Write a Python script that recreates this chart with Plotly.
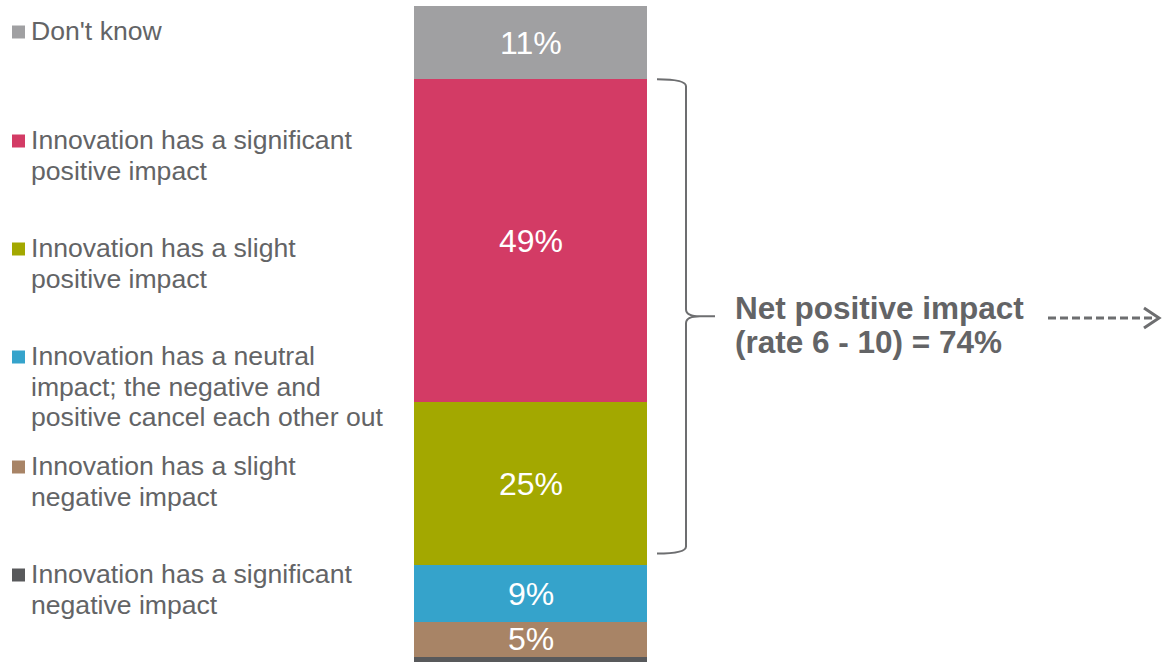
import plotly.graph_objects as go

# ---------------- data (bottom to top) ----------------
categories = [
    "Innovation has a significant negative impact",
    "Innovation has a slight negative impact",
    "Innovation has a neutral impact; the negative and positive cancel each other out",
    "Innovation has a slight positive impact",
    "Innovation has a significant positive impact",
    "Don't know",
]
values = [1.0, 5.4, 8.5, 24.8, 49.0, 11.1]
value_labels = [1, 5, 9, 25, 49, 11]
colors = ["#58595B", "#A88466", "#35A3CB", "#A3A800", "#D33B65", "#A0A0A2"]
legend_lines = [
    ["Innovation has a significant", "negative impact"],
    ["Innovation has a slight", "negative impact"],
    ["Innovation has a neutral", "impact; the negative and", "positive cancel each other out"],
    ["Innovation has a slight", "positive impact"],
    ["Innovation has a significant", "positive impact"],
    ["Don't know"],
]
net_title = "Net positive impact"
net_range = "(rate 6 - 10)"

# ---------------- layout helpers ----------------
W, H = 1162, 662
PX = 6.59          # pixels per percentage point
BAR_TOP_PX = 6
total = sum(values)
y_top = total + BAR_TOP_PX / PX
y_bot = total - (H - BAR_TOP_PX) / PX


def py(pix):
    return y_top - pix / PX


TEXT = "#636466"
LINE = "#6D6E70"
FONT = "Arial, Liberation Sans, sans-serif"
BAR_X, BAR_W = 530.5, 233

fig = go.Figure()
for cat, v, c in zip(categories, values, colors):
    fig.add_trace(go.Bar(x=[BAR_X], y=[v], width=BAR_W, name=cat,
                         marker=dict(color=c, line=dict(width=0)),
                         showlegend=False, hoverinfo="name+y"))

annotations = []
shapes = []

# value labels inside bar
base = 0
for v, lab in zip(values, value_labels):
    if v >= 3:
        annotations.append(dict(x=BAR_X, y=base + v / 2, xref="x", yref="y",
                                text=f"{lab}%", showarrow=False,
                                font=dict(family=FONT, size=32, color="white"),
                                xanchor="center", yanchor="middle"))
    base += v

# custom legend (top to bottom)
legend_first_px = [574, 466, 356, 248, 140, 31]
LINE_GAP = 30.5
for lines, c, y0 in zip(legend_lines, colors, legend_first_px):
    shapes.append(dict(type="rect", xref="x", yref="y", x0=12, x1=25,
                       y0=py(y0 + 7.5), y1=py(y0 - 5.5),
                       fillcolor=c, line=dict(width=0)))
    for i, ln in enumerate(lines):
        annotations.append(dict(x=28.5, y=py(y0 + i * LINE_GAP), xref="x", yref="y",
                                text=ln, showarrow=False,
                                font=dict(family=FONT, size=26.6, color=TEXT),
                                xanchor="left", yanchor="middle"))

# curly bracket spanning significant + slight positive
top = sum(values[:5])
bot = sum(values[:3]) + 12 / PX
mid = (top + bot) / 2
d = 7 / PX
xa, xb, xc, xt = 657, 686, 700, 715
path = (f"M {xa},{top} Q {xb},{top} {xb},{top - d} L {xb},{mid + d} "
        f"Q {xb},{mid} {xc},{mid} L {xt},{mid} M {xc},{mid} "
        f"Q {xb},{mid} {xb},{mid - d} L {xb},{bot + d} Q {xb},{bot} {xa},{bot}")
shapes.append(dict(type="path", xref="x", yref="y", path=path,
                   line=dict(color=LINE, width=2)))

net_pct = value_labels[3] + value_labels[4]
annotations.append(dict(x=733, y=py(308), xref="x", yref="y", text=f"<b>{net_title}</b>",
                        showarrow=False, font=dict(family=FONT, size=31.5, color=TEXT),
                        xanchor="left", yanchor="middle"))
annotations.append(dict(x=733, y=py(342), xref="x", yref="y",
                        text=f"<b>{net_range} = {net_pct}%</b>",
                        showarrow=False, font=dict(family=FONT, size=31.5, color=TEXT),
                        xanchor="left", yanchor="middle"))

# dashed arrow
ay = py(318)
shapes.append(dict(type="line", xref="x", yref="y", x0=1048, x1=1156, y0=ay, y1=ay,
                   line=dict(color=LINE, width=3, dash="8px,4px")))
shapes.append(dict(type="path", xref="x", yref="y",
                   path=f"M 1144,{ay + 10 / PX} L 1159,{ay} L 1144,{ay - 10 / PX}",
                   line=dict(color=LINE, width=3)))

fig.update_layout(
    width=W, height=H, barmode="stack", bargap=0,
    margin=dict(l=0, r=0, t=0, b=0),
    paper_bgcolor="white", plot_bgcolor="white",
    xaxis=dict(range=[0, W], visible=False, fixedrange=True),
    yaxis=dict(range=[y_bot, y_top], visible=False, fixedrange=True),
    annotations=annotations, shapes=shapes,
    showlegend=False,
)

fig.write_html(
    "out.html",
    config={"displayModeBar": False},
    post_script="document.body.style.margin='0';document.body.style.overflow='hidden';",
)
